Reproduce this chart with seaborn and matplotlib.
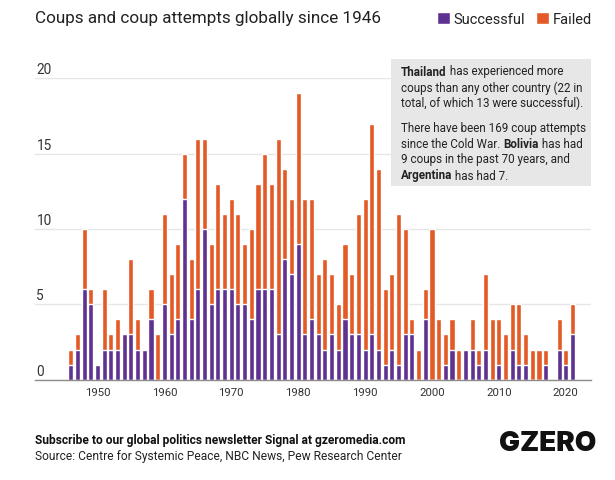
import matplotlib
matplotlib.use("Agg")
import matplotlib.pyplot as plt
import pandas as pd
import seaborn as sns

years = list(range(1946, 2022))
successful = [1, 2, 6, 5, 1, 2, 2, 2, 3, 3, 2, 2, 4, 0, 5, 3, 4, 12, 4, 6,
              10, 5, 6, 6, 6, 5, 5, 4, 6, 6, 6, 3, 8, 7, 9, 3, 4, 3, 2, 3,
              2, 4, 3, 3, 2, 3, 2, 1, 2, 1, 3, 3, 0, 4, 0, 0, 1, 2, 0, 2,
              2, 1, 2, 0, 1, 0, 2, 1, 1, 0, 0, 1, 0, 2, 1, 3]
total = [2, 3, 10, 6, 1, 6, 3, 4, 3, 8, 4, 2, 6, 3, 11, 7, 9, 15, 8, 16,
         16, 9, 13, 11, 12, 11, 9, 10, 13, 15, 13, 16, 14, 12, 19, 12, 12, 7, 8, 7,
         5, 9, 7, 11, 12, 17, 14, 6, 7, 11, 10, 4, 2, 6, 10, 4, 3, 4, 2, 2,
         4, 2, 7, 4, 4, 3, 5, 5, 3, 2, 2, 2, 0, 4, 2, 5]
y_ticks = [0, 5, 10, 15, 20]
x_ticks = [1950, 1960, 1970, 1980, 1990, 2000, 2010, 2020]

PURPLE = "#5f3191"
ORANGE = "#e45a26"
W, H = 615, 481

sns.set_theme(style="white")
plt.rcParams["font.family"] = ["Roboto", "DejaVu Sans"]

df = pd.DataFrame({"year": years, "successful": successful, "total": total})

fig = plt.figure(figsize=(W / 100, H / 100), dpi=100)
ax = fig.add_axes([35 / W, 1 - 380.7 / H, (591 - 35) / W, (380.7 - 79.3) / H])

sns.barplot(data=df, x="year", y="total", color=ORANGE, saturation=1, width=0.76,
            native_scale=True, label="Failed", ax=ax)
sns.barplot(data=df, x="year", y="successful", color=PURPLE, saturation=1, width=0.76,
            native_scale=True, label="Successful", ax=ax)

# px to data: 1946 at 70.7, one year is 6.69px
ax.set_xlim(1946 - (70.7 - 35) / 6.69, 1946 + (591 - 70.7) / 6.69)
ax.set_ylim(0, 20)
ax.set_xlabel("")
ax.set_ylabel("")
sns.despine(ax=ax, left=True, top=True, right=True)
ax.spines["bottom"].set_color("#8c8c8c")
ax.spines["bottom"].set_linewidth(1)

ax.set_axisbelow(True)
ax.yaxis.grid(True, color="#e6e6e6", linewidth=1)
ax.xaxis.grid(False)
ax.set_xticks(x_ticks)
ax.set_xticklabels([str(x) for x in x_ticks], fontsize=8.2, color="#333333")
ax.tick_params(axis="x", length=0, pad=5.5)
ax.set_yticks(y_ticks)
ax.set_yticklabels([])
ax.tick_params(axis="y", length=0)
for v in y_ticks:
    ax.annotate(str(v), (0, v), xycoords=("axes fraction", "data"), xytext=(1, 3.6),
                textcoords="offset points", ha="left", va="baseline",
                fontsize=9.8, color="#333333")

handles, labels = ax.get_legend_handles_labels()
fig.legend(handles[::-1], labels[::-1], loc="upper right", bbox_to_anchor=(592 / W, 1 - 13 / H),
           ncol=2, frameon=False, fontsize=10.5, handlelength=0.89, handleheight=0.85,
           handletextpad=0.27, columnspacing=0.75, borderpad=0, borderaxespad=0,
           labelcolor="#222222")

fig.text(35 / W, 1 - 19 / H, "Coups and coup attempts globally since 1946", fontsize=12.3,
         color="#222222", va="center")

# grey note box
fig.patches.append(plt.Rectangle((391 / W, 1 - 187 / H), 200 / W, 127 / H, transform=fig.transFigure,
                                 facecolor="#e6e7e6", edgecolor="none", zorder=3))

note_lines = [
    (72, [("Thailand", "bold"), (" has experienced more", "normal")]),
    (88, [("coups than any other country (22 in", "normal")]),
    (103, [("total, of which 13 were successful).", "normal")]),
    (129, [("There have been 169 coup attempts", "normal")]),
    (144, [("since the Cold War. ", "normal"), ("Bolivia", "bold"), (" has had", "normal")]),
    (160, [("9 coups in the past 70 years, and", "normal")]),
    (176, [("Argentina", "bold"), (" has had 7.", "normal")]),
]
NOTE_SIZE = 8.35
fig.canvas.draw()
renderer = fig.canvas.get_renderer()
for y_px, parts in note_lines:
    x_px = 401
    for part, weight in parts:
        fig.text(x_px / W, 1 - y_px / H, part, fontsize=NOTE_SIZE, fontweight=weight,
                 color="#222222", va="center", ha="left", zorder=4)
        # advance width: dots either side keep the spaces and side bearings in
        probe = fig.text(0, 0, "." + part + ".", fontsize=NOTE_SIZE, fontweight=weight)
        dots = fig.text(0, 0, "..", fontsize=NOTE_SIZE, fontweight=weight)
        x_px += probe.get_window_extent(renderer).width - dots.get_window_extent(renderer).width
        probe.remove()
        dots.remove()

fig.text(35 / W, 1 - 440.5 / H, "Subscribe to our global politics newsletter Signal at gzeromedia.com",
         fontsize=8.65, fontweight="bold", color="#111111", va="center")
fig.text(35 / W, 1 - 456.5 / H, "Source: Centre for Systemic Peace, NBC News, Pew Research Center",
         fontsize=8.65, color="#222222", va="center")
fig.text(596 / W, 1 - 444.5 / H, "GZERO", fontsize=20, fontweight="black", color="#111111",
         family=["Inter", "Roboto"], va="center", ha="right")

fig.savefig("out.png", dpi=100)
